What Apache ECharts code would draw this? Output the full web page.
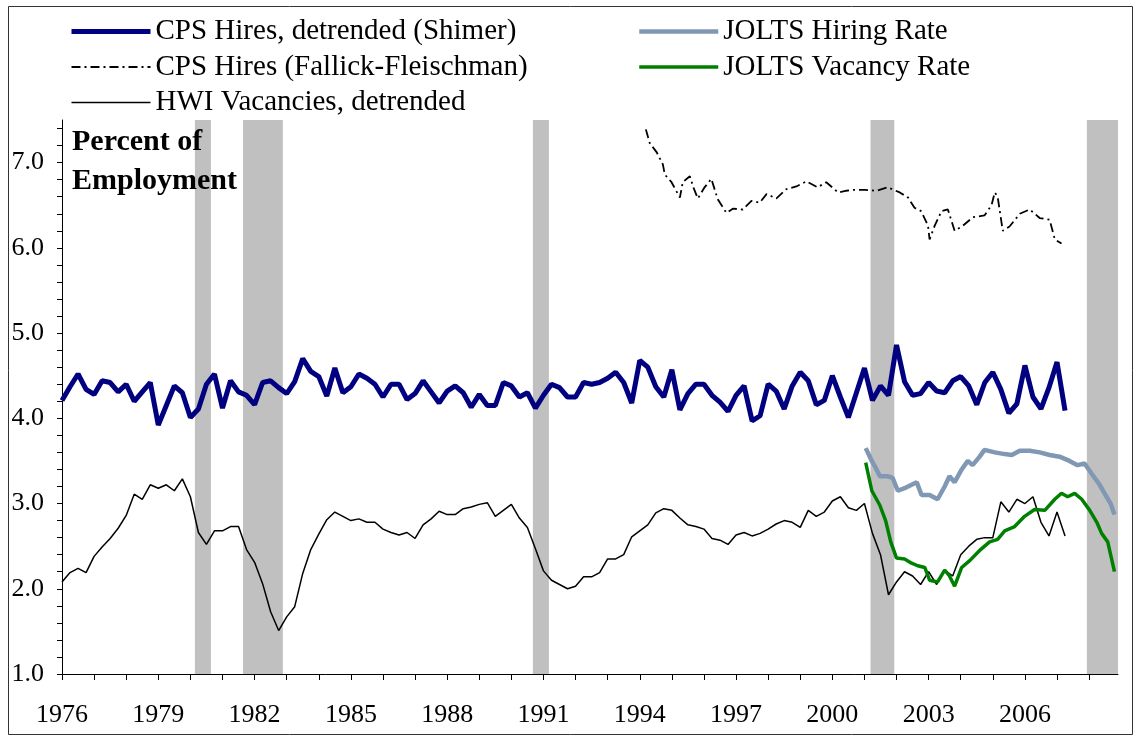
<!DOCTYPE html>
<html>
<head>
<meta charset="utf-8">
<script src="https://cdn.jsdelivr.net/npm/echarts@6/dist/echarts.min.js"></script>
<style>
  html, body { margin: 0; padding: 0; background: #fff; }
  #chart { width: 1135px; height: 736px; }
</style>
</head>
<body>
<div id="chart"></div>
<script>
    var startYear = 1976;

    // quarterly, 1976Q1 ..
    var shimerHires = [4.21, 4.37, 4.52, 4.34, 4.28, 4.44, 4.42, 4.31, 4.40, 4.20,
        4.31, 4.42, 3.92, 4.15, 4.38, 4.30, 4.01, 4.11, 4.40, 4.52,
        4.12, 4.44, 4.31, 4.27, 4.16, 4.42, 4.44, 4.36, 4.29, 4.43,
        4.70, 4.55, 4.49, 4.26, 4.59, 4.30, 4.37, 4.52, 4.47, 4.40,
        4.25, 4.40, 4.40, 4.22, 4.29, 4.44, 4.31, 4.18, 4.32, 4.38,
        4.30, 4.13, 4.28, 4.15, 4.15, 4.42, 4.38, 4.25, 4.30, 4.12,
        4.27, 4.40, 4.36, 4.25, 4.25, 4.42, 4.40, 4.42, 4.47, 4.54,
        4.42, 4.18, 4.68, 4.60, 4.37, 4.25, 4.57, 4.10, 4.29, 4.40,
        4.40, 4.27, 4.19, 4.08, 4.27, 4.38, 3.97, 4.03, 4.40, 4.32,
        4.11, 4.38, 4.54, 4.44, 4.16, 4.21, 4.50, 4.25, 4.01, 4.30,
        4.59, 4.21, 4.38, 4.27, 4.86, 4.43, 4.27, 4.29, 4.42, 4.32,
        4.30, 4.44, 4.49, 4.38, 4.16, 4.42, 4.54, 4.34, 4.06, 4.17,
        4.62, 4.25, 4.11, 4.36, 4.66, 4.09];

    var hwiVacancies = [2.08, 2.19, 2.24, 2.19, 2.38, 2.49, 2.59, 2.71, 2.86, 3.11,
        3.05, 3.22, 3.18, 3.22, 3.15, 3.29, 3.08, 2.66, 2.52, 2.68,
        2.68, 2.73, 2.73, 2.46, 2.31, 2.06, 1.73, 1.51, 1.67, 1.79,
        2.18, 2.46, 2.64, 2.81, 2.90, 2.85, 2.80, 2.82, 2.78, 2.78,
        2.70, 2.66, 2.63, 2.66, 2.59, 2.75, 2.82, 2.91, 2.87, 2.87,
        2.94, 2.96, 2.99, 3.01, 2.85, 2.92, 2.99, 2.83, 2.72, 2.47,
        2.21, 2.10, 2.05, 2.00, 2.03, 2.14, 2.14, 2.19, 2.35, 2.35,
        2.40, 2.61, 2.68, 2.75, 2.89, 2.94, 2.92, 2.83, 2.75, 2.73,
        2.70, 2.59, 2.57, 2.52, 2.63, 2.66, 2.62, 2.65, 2.70, 2.76,
        2.80, 2.78, 2.72, 2.92, 2.85, 2.90, 3.03, 3.08, 2.95, 2.92,
        3.00, 2.65, 2.40, 1.93, 2.08, 2.20, 2.15, 2.05, 2.20, 2.05,
        2.22, 2.15, 2.40, 2.50, 2.58, 2.60, 2.60, 3.02, 2.90, 3.05,
        3.00, 3.08, 2.78, 2.62, 2.90, 2.62];

    // [year, value]
    var ffHires = [[1994.19, 7.39], [1994.31, 7.23], [1994.53, 7.12], [1994.72, 6.98], [1994.78, 6.86],
        [1994.99, 6.77], [1995.25, 6.59], [1995.34, 6.77], [1995.56, 6.84], [1995.68, 6.70],
        [1995.81, 6.58], [1996.02, 6.71], [1996.23, 6.81], [1996.43, 6.57], [1996.70, 6.41],
        [1996.90, 6.46], [1997.21, 6.45], [1997.48, 6.55], [1997.74, 6.53], [1997.95, 6.63],
        [1998.26, 6.58], [1998.57, 6.69], [1998.88, 6.72], [1999.19, 6.78], [1999.54, 6.71],
        [1999.81, 6.77], [2000.18, 6.65], [2000.44, 6.67], [2000.63, 6.68], [2001.01, 6.68],
        [2001.37, 6.67], [2001.73, 6.71], [2002.10, 6.65], [2002.36, 6.59], [2002.56, 6.47],
        [2002.77, 6.43], [2002.98, 6.26], [2003.03, 6.10], [2003.19, 6.26], [2003.40, 6.43],
        [2003.60, 6.45], [2003.71, 6.32], [2003.81, 6.20], [2004.07, 6.26], [2004.38, 6.36],
        [2004.74, 6.38], [2004.96, 6.50], [2005.06, 6.65], [2005.15, 6.60], [2005.31, 6.20],
        [2005.52, 6.25], [2005.84, 6.40], [2006.15, 6.45], [2006.46, 6.35], [2006.77, 6.33],
        [2006.93, 6.10], [2007.14, 6.05]];

    var joltsHires = [[2001.04, 3.65], [2001.23, 3.50], [2001.35, 3.42], [2001.48, 3.32], [2001.73, 3.32],
        [2001.88, 3.30], [2002.04, 3.15], [2002.25, 3.18], [2002.47, 3.22], [2002.63, 3.25],
        [2002.78, 3.10], [2003.03, 3.10], [2003.28, 3.05], [2003.50, 3.20], [2003.65, 3.32],
        [2003.81, 3.25], [2004.03, 3.40], [2004.22, 3.50], [2004.37, 3.45], [2004.59, 3.55],
        [2004.74, 3.63], [2005.06, 3.60], [2005.37, 3.58], [2005.59, 3.57], [2005.84, 3.62],
        [2006.15, 3.62], [2006.46, 3.60], [2006.77, 3.57], [2007.08, 3.55], [2007.39, 3.50],
        [2007.64, 3.45], [2007.86, 3.47], [2008.08, 3.35], [2008.33, 3.22], [2008.51, 3.10],
        [2008.67, 3.00], [2008.79, 2.87]];

    var joltsVacancies = [[2001.04, 3.48], [2001.23, 3.15], [2001.48, 2.98], [2001.66, 2.80], [2001.82, 2.55],
        [2002.00, 2.36], [2002.25, 2.35], [2002.47, 2.30], [2002.66, 2.27], [2002.88, 2.25],
        [2003.03, 2.10], [2003.28, 2.08], [2003.50, 2.22], [2003.65, 2.15], [2003.81, 2.03],
        [2004.03, 2.25], [2004.28, 2.33], [2004.59, 2.45], [2004.90, 2.55], [2005.15, 2.58],
        [2005.37, 2.68], [2005.68, 2.73], [2005.99, 2.85], [2006.30, 2.93], [2006.62, 2.92],
        [2006.93, 3.05], [2007.14, 3.12], [2007.33, 3.08], [2007.55, 3.12], [2007.77, 3.05],
        [2008.02, 2.92], [2008.24, 2.78], [2008.39, 2.65], [2008.58, 2.55], [2008.79, 2.20]];

    var recessions = [[1980.14, 1980.64], [1981.64, 1982.88], [1990.67, 1991.17],
        [2001.19, 2001.93], [2007.93, 2008.9]];

    var xTickYears = [];
    for (var y = 1976; y <= 2008; y++) xTickYears.push(y);
    var xLabelYears = [1976, 1979, 1982, 1985, 1988, 1991, 1994, 1997, 2000, 2003, 2006];
    var yLabelValues = [1, 2, 3, 4, 5, 6, 7];
    var yTickValues = [];
    for (var t = 10; t <= 74; t += 2) yTickValues.push(t / 10);

    var names = ['CPS Hires, detrended (Shimer)', 'CPS Hires (Fallick-Fleischman)',
        'HWI Vacancies, detrended', 'JOLTS Hiring Rate', 'JOLTS Vacancy Rate'];
    var colors = ['#000080', '#000', '#000', '#8098B4', '#008000'];
    var widths = [5, 1.8, 1.5, 4.5, 3.5];

    function quarterly(vals) {
        return vals.map(function (v, i) { return [startYear + i / 4, v]; });
    }

    function legendItem(i) {
        var ls = { width: widths[i] };
        if (i === 1) ls.type = [9, 4, 2, 4];
        return { name: names[i], lineStyle: ls };
    }

    var serif = 'Liberation Serif';
    var chart = echarts.init(document.getElementById('chart'));

    var legendBase = {
        orient: 'vertical',
        top: 12,
        itemWidth: 79,
        itemHeight: 14,
        itemGap: 6.5,
        itemStyle: { opacity: 0 },
        textStyle: { fontFamily: serif, fontSize: 29, color: '#000', lineHeight: 29 }
    };

    var option = {
        animation: false,
        backgroundColor: '#fff',
        textStyle: { fontFamily: serif },
        grid: { left: 62, top: 120, right: 17, bottom: 62 },
        legend: [
            Object.assign({}, legendBase, { left: 64, data: [0, 1, 2].map(legendItem) }),
            Object.assign({}, legendBase, { left: 632, data: [3, 4].map(legendItem) })
        ],
        graphic: [
            {
                type: 'rect', silent: true, z: -1,
                shape: { x: 8.5, y: 6.5, width: 1124, height: 728 },
                style: { fill: 'none', stroke: '#333', lineWidth: 1 }
            },
            {
                type: 'text', left: 72, top: 123, z: 10,
                style: {
                    text: 'Percent of\nEmployment', fill: '#000',
                    font: 'bold 30px "Liberation Serif"', lineHeight: 39
                }
            }
        ],
        xAxis: {
            type: 'value',
            min: 1976,
            max: 2008.9,
            interval: 1,
            splitLine: { show: false },
            axisLine: { lineStyle: { color: '#000', width: 1 } },
            axisTick: { show: true, length: 6, customValues: xTickYears, lineStyle: { color: '#000' } },
            axisLabel: {
                customValues: xLabelYears,
                margin: 28,
                color: '#000',
                fontFamily: serif,
                fontSize: 26,
                formatter: function (v) { return String(v); }
            }
        },
        yAxis: {
            type: 'value',
            min: 1,
            max: 7.5,
            interval: 0.2,
            splitLine: { show: false },
            axisLine: { show: true, lineStyle: { color: '#000', width: 1 } },
            axisTick: { show: true, length: 5, customValues: yTickValues, lineStyle: { color: '#000' } },
            axisLabel: {
                customValues: yLabelValues,
                margin: 18,
                color: '#000',
                fontFamily: serif,
                fontSize: 26,
                formatter: function (v) { return v.toFixed(1); }
            }
        },
        series: [
            {
                name: 'recessions',
                type: 'line',
                data: [],
                z: 0,
                markArea: {
                    silent: true,
                    itemStyle: { color: '#C0C0C0', opacity: 1 },
                    data: recessions.map(function (r) { return [{ xAxis: r[0] }, { xAxis: r[1] }]; })
                }
            },
            {
                name: names[0], type: 'line', symbol: 'none', z: 5,
                data: quarterly(shimerHires),
                lineStyle: { color: colors[0], width: widths[0] },
                itemStyle: { color: colors[0] }
            },
            {
                name: names[1], type: 'line', symbol: 'none', z: 4,
                data: ffHires,
                lineStyle: { color: colors[1], width: widths[1], type: [9, 4, 2, 4] },
                itemStyle: { color: colors[1] }
            },
            {
                name: names[2], type: 'line', symbol: 'none', z: 3,
                data: quarterly(hwiVacancies),
                lineStyle: { color: colors[2], width: widths[2] },
                itemStyle: { color: colors[2] }
            },
            {
                name: names[3], type: 'line', symbol: 'none', z: 4,
                data: joltsHires,
                lineStyle: { color: colors[3], width: widths[3] },
                itemStyle: { color: colors[3] }
            },
            {
                name: names[4], type: 'line', symbol: 'none', z: 4,
                data: joltsVacancies,
                lineStyle: { color: colors[4], width: widths[4] },
                itemStyle: { color: colors[4] }
            }
        ]
    };

    chart.setOption(option);
</script>
</body>
</html>
